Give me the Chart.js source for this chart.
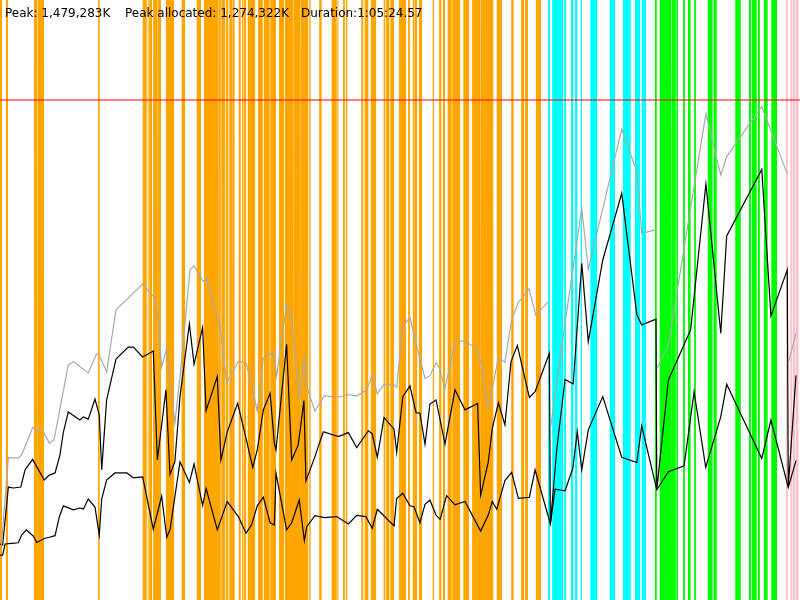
<!DOCTYPE html>
<html>
<head>
<meta charset="utf-8">
<title>GC timeline</title>
<script src="https://cdn.jsdelivr.net/npm/chart.js@4.4.0/dist/chart.umd.min.js"></script>
<style>
  html, body { margin: 0; padding: 0; background: #fff; }
  canvas { display: block; }
</style>
</head>
<body>
<canvas id="gc" width="800" height="600"></canvas>
<script>
// run length in seconds (1:05:24.57) and the heap limit in MB
const duration = 3924.57;
const heapLimit = 1500;
const peakLabel = "1,479,283K";
const peakAllocLabel = "1,274,322K";
const durationLabel = "1:05:24.57";

// gc pauses as [start s, end s], one list per kind
const orangePauses = [[0,10],[29,39],[167,182],[186,216],[481,489],[700,720],[725,729],[732,746],[751,772],[775,790],
  [814,854],[891,908],[965,986],[1001,1071],[1074,1083],[1086,1105],[1109,1120],[1125,1140],[1143,1151],[1171,1181],
  [1187,1194],[1197,1207],[1215,1252],[1266,1289],[1294,1323],[1326,1354],[1369,1393],[1397,1439],[1442,1472],[1475,1512],
  [1517,1524],[1566,1578],[1627,1652],[1655,1660],[1683,1692],[1697,1704],[1772,1782],[1789,1807],[1819,1845],[1882,1890],
  [1894,1910],[1915,1933],[1957,1992],[2002,2011],[2025,2031],[2034,2046],[2055,2070],[2123,2129],[2154,2165],[2173,2183],
  [2196,2216],[2219,2257],[2273,2301],[2316,2355],[2358,2420],[2437,2463],[2508,2520],[2557,2571],[2576,2590],[2629,2654]];
const cyanPauses = [[2688,2698],[2709,2763],[2768,2777],[2801,2812],[2821,2832],[2849,2855],[2896,2929],[2991,3017],
  [3056,3094],[3115,3140],[3148,3169]];
const greenPauses = [[3213,3222],[3236,3292],[3295,3315],[3318,3326],[3351,3360],[3375,3388],[3405,3414],[3472,3496],
  [3501,3516],[3607,3634],[3674,3684],[3688,3712],[3718,3728],[3748,3766],[3784,3812]];
const pinkPauses = [[3856,3864],[3877,3885],[3889,3900],[3903,3918]];

// heap samples as [time s, MB]; null breaks the line
const heapTotal = [[7,54],[41,337],[90,337],[106,346],[162,437],[180,424],[213,421],[242,385],[265,395],[335,639],
  [360,649],[433,613],[474,675],[487,671],[523,616],[569,818],[700,902],[755,860],[772,811],[793,632],[818,694],
  [858,450],[883,600],[932,948],[952,961],[997,910],[1011,922],[1079,766],[1112,580],[1169,650],[1207,645],[1235,574],
  [1262,489],[1292,662],[1341,682],[1357,603],[1406,837],[1431,785],[1468,532],[1493,662],[1505,568],[1545,489],
  [1591,538],[1660,534],[1709,543],[1750,538],[1799,558],[1826,606],[1851,545],[1884,576],[1929,576],[1946,566],
  [1976,766],[2011,793],[2041,707],[2085,595],[2109,604],[2139,646],[2155,628],[2183,563],[2232,711],[2273,718],
  [2339,693],[2363,633],[2395,503],[2420,579],[2445,664],[2477,647],[2510,787],[2543,842],[2595,886],[2628,801],
  [2695,848],[2698,null],[2701,434],[2772,774],[2854,1148],[2886,950],[3050,1405],[3124,1267],[3148,1067],[3218,1078],
  [3221,null],[3224,628],[3279,704],[3463,1455],[3536,1256],[3565,1316],[3737,1479],[3862,1260],[3865,null],
  [3867,644],[3905,742]];
const heapUsed = [[0,57],[13,54],[41,242],[65,239],[102,242],[123,298],[160,332],[217,265],[242,281],[270,288],
  [294,346],[311,421],[335,486],[392,460],[409,470],[433,463],[466,528],[487,476],[499,298],[523,525],[569,658],
  [629,697],[654,697],[700,665],[752,684],[772,330],[814,558],[834,283],[858,325],[883,536],[929,772],[952,641],
  [994,761],[1011,490],[1066,601],[1084,330],[1115,422],[1166,514],[1207,400],[1240,306],[1262,363],[1292,493],
  [1325,547],[1346,384],[1354,363],[1406,706],[1431,330],[1463,379],[1491,523],[1501,262],[1545,341],[1586,422],
  [1660,406],[1709,419],[1750,370],[1807,425],[1826,415],[1851,339],[1884,468],[1933,430],[1946,355],[1976,536],
  [2011,571],[2041,484],[2060,482],[2085,381],[2109,512],[2139,525],[2183,382],[2232,558],[2281,493],[2343,514],
  [2358,216],[2395,322],[2415,433],[2445,516],[2477,444],[2507,650],[2538,702],[2597,533],[2625,552],[2695,677],
  [2700,122],[2732,369],[2772,592],[2812,577],[2854,969],[2886,715],[2957,980],[3050,1197],[3124,803],[3148,769],
  [3218,788],[3222,233],[3279,590],[3388,753],[3463,1227],[3536,742],[3565,1058],[3737,1274],[3782,798],[3862,948],
  [3867,243],[3905,605]];
const heapAfterGC = [[0,21],[13,21],[25,57],[57,59],[90,61],[106,86],[129,103],[163,83],[180,62],[217,75],[242,79],
  [270,84],[291,145],[311,181],[360,168],[392,174],[409,171],[433,203],[466,177],[487,86],[499,203],[523,265],
  [564,288],[622,288],[654,272],[700,275],[752,105],[772,157],[793,213],[818,79],[834,103],[883,324],[929,257],
  [952,317],[994,182],[1011,238],[1066,103],[1115,195],[1169,146],[1207,92],[1235,121],[1262,181],[1292,209],
  [1325,126],[1346,119],[1354,287],[1406,103],[1431,126],[1468,200],[1493,68],[1505,113],[1545,149],[1591,143],
  [1652,146],[1709,122],[1750,150],[1795,146],[1826,108],[1851,170],[1933,116],[1946,205],[1976,222],[2011,181],
  [2031,178],[2060,126],[2085,186],[2109,200],[2139,151],[2159,137],[2191,214],[2232,184],[2281,195],[2358,99],
  [2395,151],[2415,195],[2437,170],[2477,263],[2510,290],[2543,205],[2597,209],[2625,298],[2700,122],[2723,235],
  [2772,230],[2810,303],[2832,422],[2854,298],[2886,428],[2957,536],[3050,339],[3124,322],[3148,441],[3222,233],
  [3279,292],[3356,311],[3405,552],[3462,306],[3536,471],[3565,576],[3737,335],[3782,460],[3867,241],[3905,328]];

const yMin = -125;
const yMax = 1825;

// turn pause intervals into a closed outline that fills down to the axis
function pauseOutline(list) {
  const pts = [];
  list.forEach(([a, b]) => {
    pts.push({x: a, y: yMin}, {x: a, y: yMax}, {x: b, y: yMax}, {x: b, y: yMin});
  });
  return pts;
}
const toPoints = (list) => list.map(([x, y]) => ({x: x, y: y}));

function pauseSet(label, list, color) {
  return {
    label: label,
    data: pauseOutline(list),
    borderWidth: 0,
    borderColor: color,
    backgroundColor: color,
    fill: "start",
    pointRadius: 0,
    tension: 0,
    order: 5
  };
}
function lineSet(label, list, color, width) {
  return {
    label: label,
    data: toPoints(list),
    borderColor: color,
    borderWidth: width,
    pointRadius: 0,
    tension: 0,
    fill: false,
    spanGaps: false,
    order: 1
  };
}

//summary line drawn on top of everything
const headerText = {
  id: "headerText",
  afterDraw(chart) {
    const ctx = chart.ctx;
    ctx.save();
    ctx.font = '12px "DejaVu Sans"';
    ctx.fillStyle = "#000";
    ctx.textBaseline = "alphabetic";
    ctx.fillText("Peak: " + peakLabel, 5, 17);
    ctx.fillText("Peak allocated: " + peakAllocLabel, 125, 17);
    ctx.fillText("Duration:" + durationLabel, 301, 17);
    ctx.restore();
  }
};

new Chart(document.getElementById("gc"), {
  type: "line",
  plugins: [headerText],
  data: {
    datasets: [
      lineSet("Heap total", heapTotal, "#a9a9a9", 1.2),
      lineSet("Heap used", heapUsed, "#000000", 1.2),
      lineSet("After GC", heapAfterGC, "#000000", 1.2),
      {
        label: "Heap limit",
        data: [{x: 0, y: heapLimit}, {x: duration, y: heapLimit}],
        borderColor: "rgba(255,0,0,0.5)",
        borderWidth: 2,
        pointRadius: 0,
        fill: false,
        order: 2
      },
      pauseSet("orange", orangePauses, "#ffa500"),
      pauseSet("cyan", cyanPauses, "#00ffff"),
      pauseSet("green", greenPauses, "#00ff00"),
      pauseSet("pink", pinkPauses, "#ffc0cb")
    ]
  },
  options: {
    responsive: false,
    animation: false,
    devicePixelRatio: 1,
    layout: { padding: 0 },
    scales: {
      x: { type: "linear", min: 0, max: duration, display: false },
      y: { type: "linear", min: yMin, max: yMax, display: false }
    },
    plugins: {
      legend: { display: false },
      tooltip: { enabled: false },
      filler: { propagate: false }
    }
  }
});
</script>
</body>
</html>
